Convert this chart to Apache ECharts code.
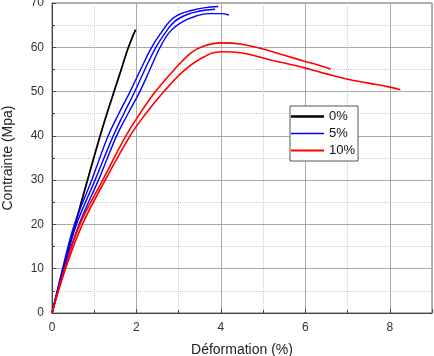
<!DOCTYPE html>
<html>
<head>
<meta charset="utf-8">
<script src="https://cdn.jsdelivr.net/npm/echarts@6/dist/echarts.min.js"></script>
<style>
html, body { margin: 0; padding: 0; background: #fff; }
#chart { width: 434px; height: 356px; }
</style>
</head>
<body>
<div id="chart"></div>
<script>
// strain (%) / stress (MPa) pairs
var black0 = [[0, 0], [0.27, 10], [0.55, 20], [0.84, 30], [1.14, 40], [1.3, 45], [1.47, 50], [1.64, 55], [1.81, 60], [1.98, 64]];

var blue1 = [[0, 0], [0.25, 10], [0.53, 20], [0.94, 30], [1.33, 40], [1.58, 45], [1.85, 50], [2.1, 55], [2.36, 60], [2.6, 63.5], [2.8, 66], [3.0, 67.4], [3.3, 68.3], [3.6, 68.9], [3.94, 69.2]];
var blue2 = [[0, 0], [0.27, 10], [0.58, 20], [1.02, 30], [1.45, 40], [1.7, 45], [1.96, 50], [2.2, 55], [2.46, 60], [2.7, 63.5], [2.9, 65.8], [3.2, 67.4], [3.5, 68.2], [3.86, 68.6]];
var blue3 = [[0, 0], [0.29, 10], [0.64, 20], [1.1, 30], [1.53, 40], [1.8, 45], [2.08, 50], [2.32, 55], [2.56, 60], [2.8, 63.6], [3.1, 65.8], [3.4, 67], [3.7, 67.6], [4.0, 67.6], [4.19, 67.3]];

var red1 = [[0, 0], [0.3, 10], [0.66, 20], [1.2, 30], [1.75, 40], [2.08, 45], [2.45, 50], [2.9, 55], [3.3, 58.8], [3.6, 60.3], [4.0, 61], [4.5, 60.7], [5.0, 59.6], [5.5, 58.2], [6.0, 56.8], [6.3, 56], [6.6, 55.1]];
var red2 = [[0, 0], [0.32, 10], [0.72, 20], [1.26, 30], [1.85, 40], [2.22, 45], [2.65, 50], [3.1, 54.5], [3.5, 57.3], [4.0, 59], [4.5, 58.7], [5.16, 57.2], [6.0, 55.3], [6.5, 54], [7.0, 52.8], [7.5, 51.9], [8.0, 51], [8.25, 50.4]];

var legendNames = ['0%', '5%', '10%'];

var font = 'Liberation Sans, Arial, sans-serif';
var chart = echarts.init(document.querySelector('#chart'), null, { renderer: 'canvas' });

function curve(name, data, color, width) {
    return {
        name: name,
        type: 'line',
        data: data,
        smooth: 0.4,
        symbol: 'none',
        lineStyle: { color: color, width: width },
        itemStyle: { color: color }
    };
}

var option = {
    animation: false,
    backgroundColor: '#fff',
    grid: {
        left: 52,
        right: 2,
        top: 3,
        bottom: 43,
        outerBoundsMode: 'none',
        show: true,
        borderColor: '#666',
        borderWidth: 1
    },
    legend: {
        data: [
            { name: legendNames[0], icon: 'path://M0,0H33V2.4H0Z' },
            { name: legendNames[1], icon: 'path://M0,0H33V1.6H0Z' },
            { name: legendNames[2], icon: 'path://M0,0H33V2H0Z' }
        ],
        orient: 'vertical',
        left: 290,
        top: 106,
        padding: [4, 3, 4, 1],
        itemWidth: 33,
        itemHeight: 14,
        itemGap: 4,
        borderColor: '#555',
        borderWidth: 1,
        backgroundColor: '#fff',
        textStyle: { fontSize: 13, color: '#111', fontFamily: font }
    },
    xAxis: {
        type: 'value',
        min: 0,
        max: 9,
        interval: 2,
        name: 'Déformation (%)',
        nameLocation: 'middle',
        nameGap: 30,
        nameTextStyle: { fontSize: 14, color: '#222', fontFamily: font },
        axisLine: { show: true, lineStyle: { color: '#444' } },
        axisTick: { show: true, inside: true, length: 4, lineStyle: { color: '#444' } },
        minorTick: { show: true, splitNumber: 2, length: 3, lineStyle: { color: '#444' } },
        axisLabel: { fontSize: 12, color: '#333', margin: 9, fontFamily: font, showMaxLabel: false },
        splitLine: { show: true, lineStyle: { color: '#aaa', width: 1 } },
        minorSplitLine: { show: true, lineStyle: { color: '#ccc', type: 'dotted' } }
    },
    yAxis: {
        type: 'value',
        min: 0,
        max: 70,
        interval: 10,
        name: 'Contrainte (Mpa)',
        nameLocation: 'middle',
        nameGap: 37,
        nameTextStyle: { fontSize: 14, color: '#222', fontFamily: font },
        axisLine: { show: true, lineStyle: { color: '#444' } },
        axisTick: { show: true, inside: true, length: 4, lineStyle: { color: '#444' } },
        minorTick: { show: true, splitNumber: 2, length: 3, lineStyle: { color: '#444' } },
        axisLabel: { fontSize: 12, color: '#333', margin: 8, fontFamily: font },
        splitLine: { show: true, lineStyle: { color: '#aaa', width: 1 } },
        minorSplitLine: { show: true, lineStyle: { color: '#ccc', type: 'dotted' } }
    },
    series: [
        curve('0%', black0, '#000000', 1.8),
        curve('5%', blue1, '#0000ff', 1.4),
        curve('5%', blue2, '#0000ff', 1.4),
        curve('5%', blue3, '#0000ff', 1.4),
        curve('10%', red1, '#ff0000', 1.6),
        curve('10%', red2, '#ff0000', 1.6)
    ]
};

if (option && typeof option === 'object') {
    chart.setOption(option);
}

window.addEventListener('resize', function () {
    chart.resize();
});
</script>
</body>
</html>
